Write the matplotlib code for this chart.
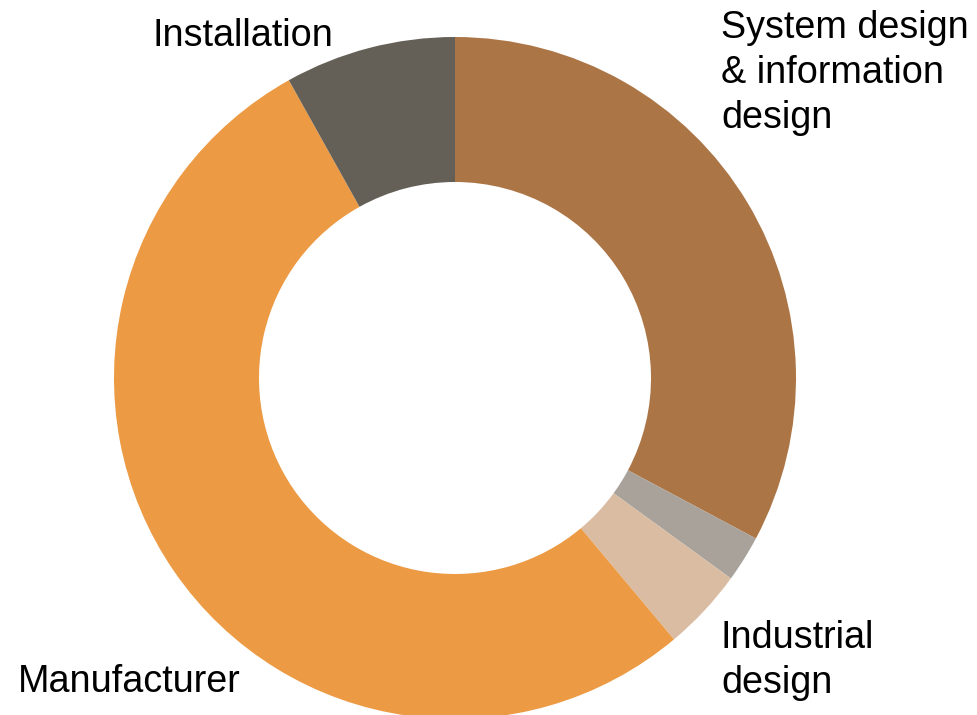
import matplotlib
matplotlib.use("Agg")
import matplotlib.pyplot as plt

# Share of work by discipline (percent), clockwise from 12 o'clock
categories = ["System design\n& information\ndesign", "Other", "Industrial\ndesign",
              "Manufacturer", "Installation"]
shares = [32.8, 2.2, 3.9, 53.0, 8.1]
colors = ["#AC7546", "#A8A29A", "#D9BCA2", "#EC9A43", "#656057"]

W, H = 977, 715
fig = plt.figure(figsize=(W / 100, H / 100), dpi=100)
ax = fig.add_axes([0, 0, 1, 1])

outer_r = 341
ring_w = outer_r - 196
ax.pie(shares, colors=colors, startangle=90, counterclock=False,
       center=(455, H - 378), radius=outer_r,
       wedgeprops=dict(width=ring_w, linewidth=0), frame=True)
ax.set_xlim(0, W)
ax.set_ylim(0, H)
ax.set_aspect("auto")
ax.axis("off")

font = dict(family=["Liberation Sans", "DejaVu Sans"], size=27.2, color="#000000")
line_step = 45

# (label index, left x px, first-line baseline y px from top)
placements = [(0, 721, 38), (2, 721, 648), (3, 18, 692), (4, 152, 46)]
for idx, x, y0 in placements:
    for k, line in enumerate(categories[idx].split("\n")):
        ax.text(x, H - (y0 + k * line_step), line, ha="left", va="baseline", **font)

fig.savefig("out.png", dpi=100)
